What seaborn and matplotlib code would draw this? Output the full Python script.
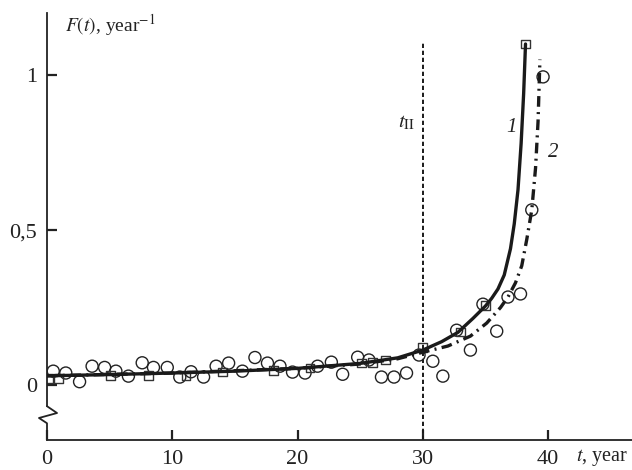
import numpy as np
import pandas as pd
import matplotlib
matplotlib.use("Agg")
import matplotlib.pyplot as plt
import matplotlib.transforms as mtransforms
import seaborn as sns

# observed points, circles
circ_t = [0.5, 1.5, 2.6, 3.6, 4.6, 5.5, 6.5, 7.6, 8.5, 9.6, 10.6, 11.5, 12.5, 13.5,
          14.5, 15.6, 16.6, 17.6, 18.6, 19.6, 20.6, 21.6, 22.7, 23.6, 24.8, 25.7,
          26.7, 27.7, 28.7, 29.7, 30.8, 31.6, 32.7, 33.8, 34.8, 35.9, 36.8, 37.8,
          38.7, 39.6]
circ_F = [0.045, 0.039, 0.011, 0.061, 0.057, 0.045, 0.029, 0.072, 0.057, 0.057,
          0.026, 0.043, 0.026, 0.061, 0.071, 0.045, 0.089, 0.071, 0.061, 0.042,
          0.039, 0.061, 0.074, 0.035, 0.090, 0.081, 0.026, 0.026, 0.039, 0.097,
          0.077, 0.029, 0.177, 0.113, 0.261, 0.174, 0.284, 0.294, 0.565, 0.994]

# observed points, squares
sq_t = [0.1, 0.9, 5.1, 8.1, 11.1, 14.0, 18.1, 21.0, 25.1, 26.0, 27.0, 30.0, 33.0, 35.0, 38.2]
sq_F = [0.022, 0.022, 0.032, 0.032, 0.032, 0.042, 0.048, 0.055, 0.071, 0.074, 0.081,
        0.121, 0.171, 0.258, 1.10]

# curve 1 (solid)
c1_t = [0, 5, 10, 15, 20, 25, 28, 30, 31.5, 32.8, 34.0, 35.0, 35.5, 36.0, 36.5,
        37.0, 37.3, 37.6, 37.85, 38.05, 38.2]
c1_F = [0.030, 0.034, 0.039, 0.045, 0.054, 0.070, 0.088, 0.113, 0.140, 0.170, 0.215,
        0.255, 0.280, 0.310, 0.355, 0.44, 0.52, 0.63, 0.78, 0.94, 1.10]

# curve 2 (dash-dot)
c2_t = [0, 10, 20, 25, 28, 30, 32.0, 33.8, 35.1, 36.2, 36.8, 37.4, 37.9, 38.3,
        38.7, 39.0, 39.2, 39.35]
c2_F = [0.030, 0.039, 0.054, 0.068, 0.085, 0.106, 0.126, 0.158, 0.200, 0.250, 0.284,
        0.33, 0.385, 0.47, 0.565, 0.70, 0.85, 1.05]

t_II = 30

sns.set_style("ticks")
plt.rcParams['font.family'] = ['Liberation Serif', 'DejaVu Serif']
plt.rcParams['mathtext.fontset'] = 'stix'

fig = plt.figure(figsize=(6.32, 4.70), dpi=100)
ax = fig.add_axes([47 / 632, 30 / 470, 585 / 632, 427 / 470])

sns.scatterplot(x=circ_t, y=circ_F, ax=ax, marker='o', s=75, facecolors='none',
                edgecolor='#222222', linewidth=1.0, zorder=2)
sns.scatterplot(x=sq_t, y=sq_F, ax=ax, marker='s', s=40, facecolors='none',
                edgecolor='#333333', linewidth=1.0, zorder=2)

sns.lineplot(x=c2_t, y=c2_F, ax=ax, color='#1a1a1a', linewidth=2.4, sort=False,
             estimator=None, linestyle=(0, (3.2, 1.6, 0.6, 1.6)), zorder=3)
sns.lineplot(x=c1_t, y=c1_F, ax=ax, color='#1a1a1a', linewidth=2.4, sort=False,
             estimator=None, zorder=4)

ax.plot([t_II, t_II], [-0.177, 1.103], color='#1a1a1a', lw=1.4,
        linestyle=(0, (2.2, 1.4)), zorder=1)

ax.set_xlim(0, 46.7)
ax.set_ylim(-0.177, 1.2)
ax.set_xticks([0, 10, 20, 30, 40])
ax.set_xticklabels(['0', '10', '20', '30', '40'])
ax.set_yticks([0, 0.5, 1])
ax.set_yticklabels(['0', '0,5', '1'])
ax.tick_params(direction='in', length=7, width=1.6, labelsize=16, pad=7,
               color='#222222', labelcolor='#222222')

for side in ['top', 'right']:
    ax.spines[side].set_visible(False)
ax.spines['bottom'].set_linewidth(1.3)
ax.spines['bottom'].set_color('#222222')
ax.spines['left'].set_linewidth(1.3)
ax.spines['left'].set_color('#222222')
ax.spines['left'].set_bounds(-0.068, 1.2)

# axis break
ax.plot([0, 0.8, -0.64, 0, 0], [-0.068, -0.090, -0.106, -0.123, -0.177],
        color='#222222', lw=1.3, clip_on=False, zorder=5)

ax.text(1.44, 1.139, r'$F(t)$, year$^{\mathrm{-1}}$', fontsize=14, va='baseline',
        color='#222222')
trans = mtransforms.blended_transform_factory(ax.transData, ax.transAxes)
ax.text(42.2, -0.05, r'$t$, year', fontsize=14.5, va='baseline', transform=trans,
        color='#222222')
ax.text(28.0, 0.83, r'$t_{\mathrm{II}}$', fontsize=15, va='baseline', color='#222222')
ax.text(36.7, 0.815, '1', fontsize=15, style='italic', va='baseline', color='#222222')
ax.text(40.0, 0.735, '2', fontsize=15, style='italic', va='baseline', color='#222222')

fig.savefig("out.png", dpi=100)
